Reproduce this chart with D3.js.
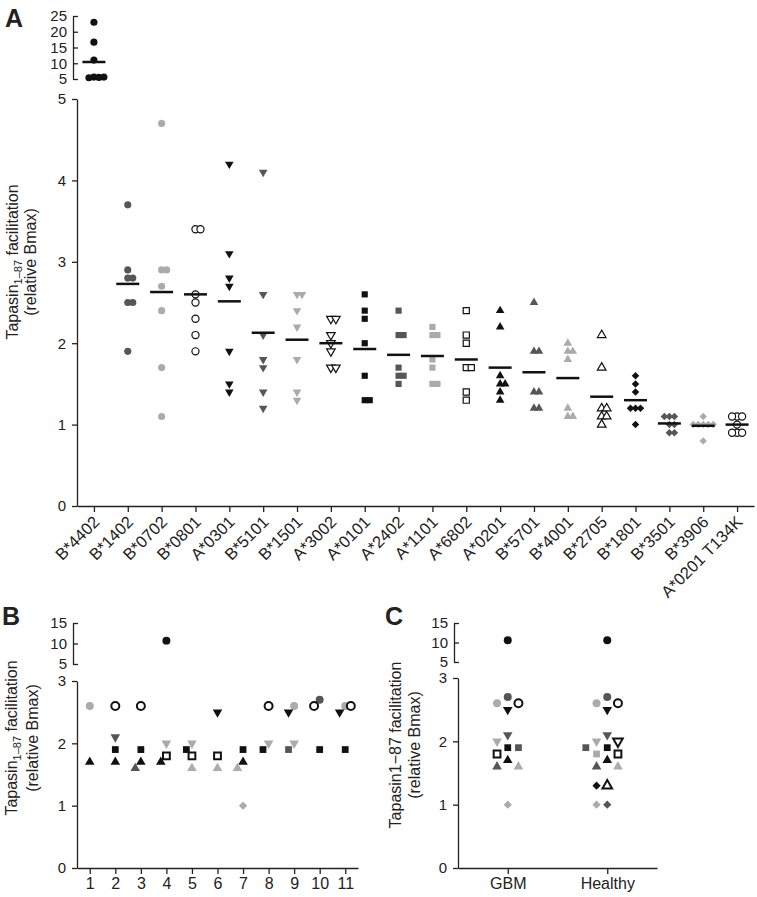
<!DOCTYPE html>
<meta charset="utf-8">
<script src="https://d3js.org/d3.v7.min.js"></script>
<style>
  body { margin: 0; background: #fff; }
  svg text { font-family: "Liberation Sans", Arial, sans-serif; fill: #222; }
  .axis path, .axis line { stroke: #222; stroke-width: 1.3; }
  .axis text { font-size: 15px; fill: #222; }
  .letter { font-weight: bold; font-size: 25px; }
  .ytitle { font-size: 16px; }
</style>
<svg id="fig" width="757" height="897"></svg>
<script>
// ---- data ----
const alleles = ["B*4402", "B*1402", "B*0702", "B*0801", "A*0301", "B*5101", "B*1501", "A*3002",
  "A*0101", "A*2402", "A*1101", "A*6802", "A*0201", "B*5701", "B*4001", "B*2705",
  "B*1801", "B*3501", "B*3906", "A*0201 T134K"];

const valuesA = [
  [23, 16.7, 11, 5.6, 5.5, 5.4, 5.6],
  [3.7, 2.9, 2.8, 2.8, 2.5, 2.5, 1.9],
  [4.7, 2.9, 2.9, 2.7, 2.4, 1.7, 1.1],
  [3.4, 3.4, 2.6, 2.5, 2.3, 2.1, 1.9],
  [4.2, 3.1, 2.8, 2.7, 1.9, 1.5, 1.4],
  [4.1, 2.6, 2.1, 1.8, 1.7, 1.4, 1.2],
  [2.6, 2.6, 2.4, 2.2, 1.8, 1.4, 1.3],
  [2.3, 2.3, 2.1, 2.0, 1.9, 1.7, 1.7],
  [2.6, 2.4, 2.3, 2.0, 1.6, 1.3, 1.3],
  [2.4, 2.1, 2.1, 1.7, 1.6, 1.6, 1.5],
  [2.2, 2.1, 2.1, 1.8, 1.7, 1.5, 1.5],
  [2.4, 2.1, 2.0, 1.7, 1.7, 1.4, 1.3],
  [2.4, 2.2, 1.6, 1.5, 1.5, 1.4, 1.3],
  [2.5, 1.9, 1.9, 1.4, 1.4, 1.2, 1.2],
  [2.0, 1.9, 1.9, 1.8, 1.2, 1.1, 1.1],
  [2.1, 1.7, 1.2, 1.2, 1.1, 1.1, 1.0],
  [1.6, 1.5, 1.4, 1.2, 1.2, 1.2, 1.0],
  [1.1, 1.1, 1.1, 1.0, 1.0, 0.9, 0.9],
  [1.1, 1.0, 1.0, 1.0, 1.0, 1.0, 0.8],
  [1.1, 1.1, 1.1, 1.0, 0.9, 0.9, 0.9]
];

const patients = ["1", "2", "3", "4", "5", "6", "7", "8", "9", "10", "11"];
const patientAlleles = [
  ["B*0702", "A*0201"],
  ["B*0801", "B*5101", "A*0101", "A*0201"],
  ["B*0801", "A*0101", "A*0201", "B*5701"],
  ["B*4402", "B*1501", "A*6802", "A*0201"],
  ["B*1501", "A*0101", "A*6802", "B*4001"],
  ["A*0301", "A*6802", "B*4001"],
  ["A*0101", "A*0201", "B*4001", "B*3906"],
  ["B*0801", "B*1501", "A*0101"],
  ["B*0702", "A*0301", "B*1501", "A*2402"],
  ["B*1402", "B*0801", "A*0101"],
  ["B*0702", "A*0301", "B*0801", "A*0101"]
];
const patientValues = [
  [2.6, 1.7],
  [2.6, 2.1, 1.9, 1.7],
  [2.6, 1.9, 1.7, 1.6],
  [10.7, 2.0, 1.8, 1.7],
  [2.0, 1.9, 1.8, 1.6],
  [2.5, 1.8, 1.6],
  [1.9, 1.7, 1.6, 1.0],
  [2.6, 2.0, 1.9],
  [2.6, 2.5, 2.0, 1.9],
  [2.7, 2.6, 1.9],
  [2.6, 2.5, 2.6, 1.9]
];

const groups = ["GBM", "Healthy"];
const gbmAlleles = ["B*4402", "B*1402", "B*0702", "B*0801", "A*0301", "B*5101", "B*1501",
  "A*0101", "A*2402", "A*6802", "A*0201", "B*5701", "B*4001", "B*3906"];
const gbmValues = [10.6, 2.7, 2.6, 2.6, 2.5, 2.1, 2.0, 1.9, 1.9, 1.8, 1.7, 1.6, 1.6, 1.0];
const healthyAlleles = ["B*4402", "B*1402", "B*0702", "B*0801", "A*0301", "B*5101", "B*1501", "A*3002",
  "A*0101", "A*2402", "A*1101", "A*6802", "A*0201", "B*5701", "B*4001", "B*2705",
  "B*1801", "B*3501", "B*3906"];
const healthyValues = [10.6, 2.7, 2.6, 2.6, 2.5, 2.1, 2.0, 2.0, 1.9, 1.9, 1.8, 1.8, 1.7, 1.6, 1.6, 1.3, 1.3, 1.0, 1.0];

const ticksLowerA = [0, 1, 2, 3, 4, 5];
const ticksUpperA = [5, 10, 15, 20, 25];
const ticksLowerBC = [0, 1, 2, 3];
const ticksUpperBC = [5, 10, 15];

// ---- marker styles ----
const shapes = ["circle", "down", "square", "up", "diamond"];
const shades = ["#111", "#565656", "#ababab", "open"];
function markerOf(allele) {
  const i = alleles.indexOf(allele);
  if (i === alleles.length - 1) return { shape: "circle", shade: "open" };
  return { shape: shapes[Math.floor(i / 4)], shade: shades[i % 4] };
}
function symbolPath(shape, size) {
  if (shape === "diamond") {
    const h = Math.sqrt(size / 2);
    return `M0,${-h}L${h},0L0,${h}L${-h},0Z`;
  }
  const type = shape === "circle" ? d3.symbolCircle : shape === "square" ? d3.symbolSquare : d3.symbolTriangle;
  return d3.symbol(type, size)();
}

// simple beeswarm: put each point in the first free column
function swarm(points, step, minDy, order) {
  const placed = [];
  for (const p of points) {
    for (const c of order) {
      if (!placed.some(q => q.group === p.group && q.col === c && Math.abs(q.y - p.y) < minDy)) { p.col = c; break; }
    }
    placed.push(p);
  }
  points.forEach(p => p.dx = p.col * step);
}

const svg = d3.select("#fig");
const fmt = d3.format("d");

function yAxes(g, x0, lower, upper, lowTicks, upTicks) {
  g.append("g").attr("class", "axis").attr("transform", `translate(${x0},0)`)
    .call(d3.axisLeft(lower).tickValues(lowTicks).tickFormat(fmt).tickSize(5).tickSizeOuter(0).tickPadding(6));
  g.append("g").attr("class", "axis").attr("transform", `translate(${x0 - 4},0)`)
    .call(d3.axisLeft(upper).tickValues(upTicks).tickFormat(fmt).tickSize(-5).tickSizeOuter(0).tickPadding(6));
}

function yTitle(g, x1, x2, yc, sub) {
  const t = g.append("text").attr("class", "ytitle")
    .attr("transform", `translate(${x1},${yc}) rotate(-90)`).attr("text-anchor", "middle");
  if (sub) {
    t.append("tspan").text("Tapasin");
    t.append("tspan").attr("font-size", "11px").attr("dy", 4).text("1\u201387");
    t.append("tspan").attr("dy", -4).text(" facilitation");
  } else {
    t.text("Tapasin1\u221287 facilitation");
  }
  g.append("text").attr("class", "ytitle")
    .attr("transform", `translate(${x2},${yc}) rotate(-90)`).attr("text-anchor", "middle")
    .text("(relative Bmax)");
}

function drawPoints(g, pts, sizes, openStroke) {
  g.selectAll(null).data(pts).join("path")
    .attr("d", d => symbolPath(d.shape, sizes[d.shape]))
    .attr("transform", d => `translate(${d.x + d.dx},${d.y})` + (d.shape === "down" ? " rotate(180)" : ""))
    .attr("fill", d => d.shade === "open" ? "#fff" : d.shade)
    .attr("stroke", d => d.shade === "open" ? "#111" : "none")
    .attr("stroke-width", openStroke);
}

// ================= Panel A =================
{
  const g = svg.append("g");
  const x0 = 77;
  const x = d3.scalePoint().domain(alleles).range([x0, 754]).padding(0.5);
  const yLow = d3.scaleLinear().domain([0, 5]).range([506, 99]);
  const yUp = d3.scaleLinear().domain([5, 25]).range([79, 16]);
  const yv = v => v > 5 ? yUp(v) : yLow(v);

  yAxes(g, x0, yLow, yUp, ticksLowerA, ticksUpperA);
  const xa = g.append("g").attr("class", "axis").attr("transform", "translate(0,506)")
    .call(d3.axisBottom(x).tickSize(6).tickSizeOuter(0));
  xa.selectAll("text").attr("x", 0).attr("y", 0).attr("dy", 0).style("font-size", "16.5px")
    .attr("text-anchor", "end").attr("transform", "translate(6,17) rotate(-45)");

  const pts = [];
  alleles.forEach((a, i) => {
    const m = markerOf(a);
    valuesA[i].forEach(v => pts.push({ group: a, x: x(a), y: yv(v), shape: m.shape, shade: m.shade }));
  });
  swarm(pts, 5, 6.5, [0, 1, -1, 2, -2, 3, -3]);
  drawPoints(g, pts, { circle: 40, square: 38, up: 32, down: 32, diamond: 28 }, 1.2);

  g.selectAll(null).data(alleles).join("line")
    .attr("x1", a => x(a) - 11.5).attr("x2", a => x(a) + 11.5)
    .attr("y1", (a, i) => yv(d3.mean(valuesA[i]))).attr("y2", (a, i) => yv(d3.mean(valuesA[i])))
    .attr("stroke", "#111").attr("stroke-width", 2.5);

  yTitle(g, 18, 36, 262, true);
  g.append("text").attr("class", "letter").attr("x", 5).attr("y", 27).text("A");
}

// ================= Panel B =================
{
  const g = svg.append("g");
  const x0 = 77;
  const x = d3.scalePoint().domain(patients).range([x0, 358]).padding(0.5);
  const yLow = d3.scaleLinear().domain([0, 3]).range([868, 681]);
  const yUp = d3.scaleLinear().domain([5, 15]).range([664, 623]);
  const yv = v => v > 3 ? yUp(v) : yLow(v);

  yAxes(g, x0, yLow, yUp, ticksLowerBC, ticksUpperBC);
  g.append("g").attr("class", "axis").attr("transform", "translate(0,868)")
    .call(d3.axisBottom(x).tickSize(6).tickSizeOuter(0).tickPadding(4))
    .selectAll("text").style("font-size", "16px");

  const pts = [];
  patients.forEach((p, i) => {
    patientAlleles[i].forEach((a, j) => {
      const m = markerOf(a);
      pts.push({ group: p, x: x(p), y: yv(patientValues[i][j]), shape: m.shape, shade: m.shade });
    });
  });
  swarm(pts, 5.6, 7, [0, -1, 1, -2, 2]);
  drawPoints(g, pts, { circle: 50, square: 46, up: 40, down: 40, diamond: 34 }, 2);

  yTitle(g, 17, 38, 738, true);
  g.append("text").attr("class", "letter").attr("x", 2).attr("y", 625).text("B");
}

// ================= Panel C =================
{
  const g = svg.append("g");
  const x0 = 458;
  const x = d3.scalePoint().domain(groups).range([x0, 657]).padding(0.5);
  const yLow = d3.scaleLinear().domain([0, 3]).range([868, 678]);
  const yUp = d3.scaleLinear().domain([5, 15]).range([662, 623]);
  const yv = v => v > 3 ? yUp(v) : yLow(v);

  yAxes(g, x0, yLow, yUp, ticksLowerBC, ticksUpperBC);
  g.append("g").attr("class", "axis").attr("transform", "translate(0,868)")
    .call(d3.axisBottom(x).tickSize(6).tickSizeOuter(0).tickPadding(4))
    .selectAll("text").style("font-size", "16px");

  const pts = [];
  [[gbmAlleles, gbmValues], [healthyAlleles, healthyValues]].forEach(([al, vals], k) => {
    al.forEach((a, j) => {
      const m = markerOf(a);
      pts.push({ group: groups[k], x: x(groups[k]), y: yv(vals[j]), shape: m.shape, shade: m.shade });
    });
  });
  swarm(pts, 10.7, 7, [0, -1, 1, -2, 2]);
  drawPoints(g, pts, { circle: 50, square: 46, up: 40, down: 40, diamond: 34 }, 2);

  yTitle(g, 401, 420, 745, false);
  g.append("text").attr("class", "letter").attr("x", 385).attr("y", 625).text("C");
}
</script>
